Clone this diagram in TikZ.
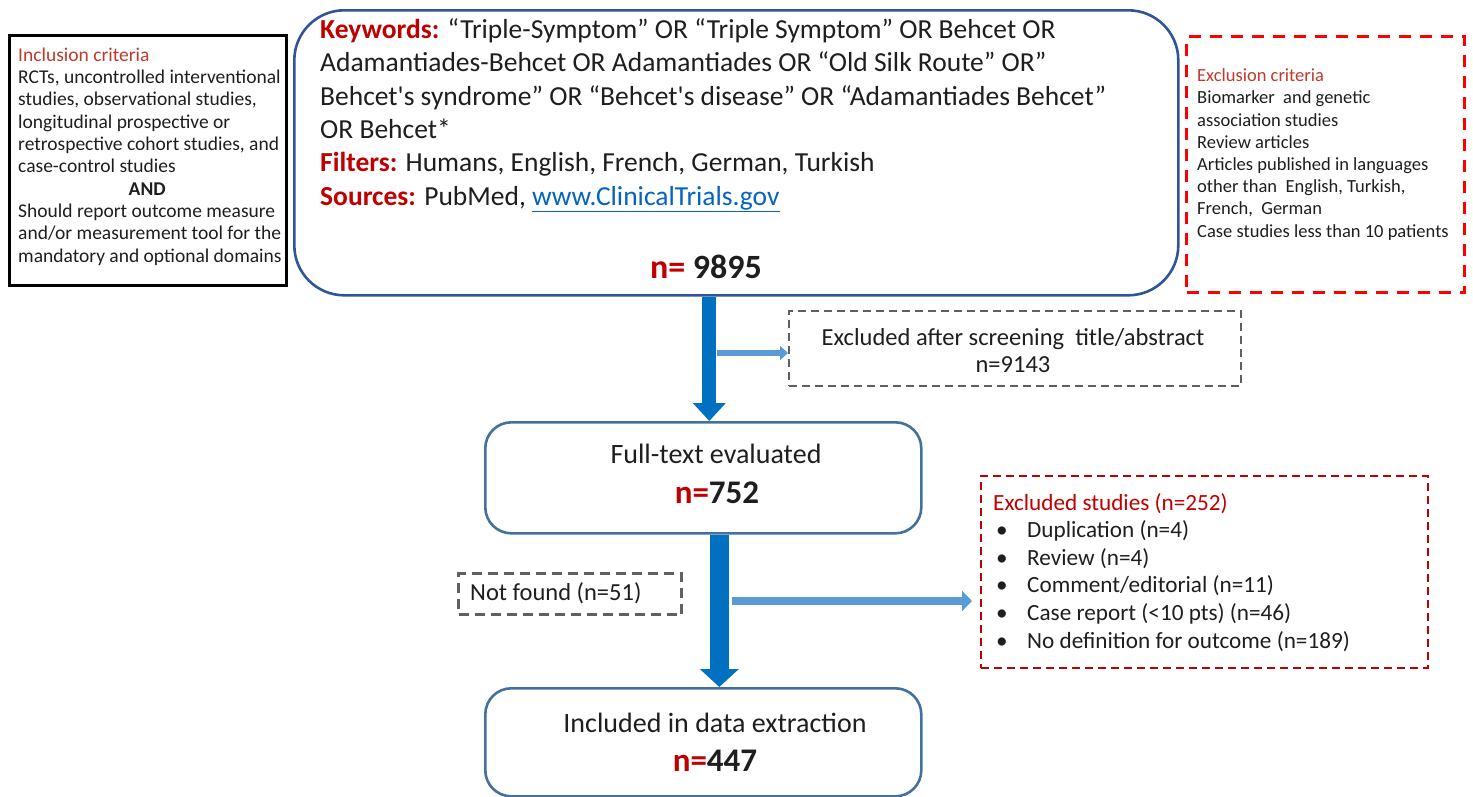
\documentclass[tikz,border=0pt]{standalone}
\usepackage{fontspec}
\setmainfont{Carlito}
\usetikzlibrary{positioning,arrows.meta}
\definecolor{SearchBlue}{HTML}{2F5597}
\definecolor{StepBlue}{HTML}{41719C}
\definecolor{FlowBlue}{HTML}{0070C0}
\definecolor{SideBlue}{HTML}{5B9BD5}
\definecolor{DeepRed}{HTML}{C00000}
\definecolor{SoftRed}{HTML}{C0392B}
\definecolor{LinkBlue}{HTML}{0563C1}
\definecolor{DashGrey}{HTML}{606060}
\definecolor{InkGrey}{HTML}{1E1E1E}

\begin{document}
\begin{tikzpicture}[x=1pt,y=-1pt,
  box/.style={draw,anchor=north west,inner sep=0pt},
  roundbox/.style={box,rounded corners=26pt,line width=2.6pt,draw=StepBlue},
  txt/.style={inner sep=0pt,text=InkGrey},
  bigarrow/.style={draw=FlowBlue,line width=14pt,-{Triangle[width=32pt,length=18pt]}},
  sidearrow/.style={draw=SideBlue,line width=6pt,-{Triangle[width=14pt,length=8pt]}}]
  \useasboundingbox (0,0) rectangle (1473,796);

  % boxes
  \node[box,line width=3pt,minimum width=277pt,minimum height=250pt] (incl) at (8,34) {};
  \node[roundbox,draw=SearchBlue,rounded corners=50pt,minimum width=884pt,minimum height=285pt] (search) at (293,9) {};
  \node[box,draw=red,line width=3pt,dash pattern=on 12pt off 9pt,minimum width=278pt,minimum height=256pt] (excl) at (1185,35) {};
  \node[box,draw=DashGrey,line width=2pt,dash pattern=on 8pt off 5pt,minimum width=452pt,minimum height=75pt] (screen) at (788,310) {};
  \node[roundbox,minimum width=436pt,minimum height=111pt] (fulltext) at (484,421) {};
  \node[box,draw=DashGrey,line width=3pt,dash pattern=on 10pt off 6pt,minimum width=223pt,minimum height=41pt] (notfound) at (457,572) {};
  \node[box,draw=DeepRed,line width=2pt,dash pattern=on 8pt off 5pt,minimum width=447pt,minimum height=192pt] (studies) at (980,475) {};
  \node[roundbox,minimum width=436pt,minimum height=108pt] (included) at (484,687) {};

  % texts (base anchor = last line)
  \node[txt,anchor=base west,align=left,font=\fontsize{19.5}{22.3}\selectfont] (incltext) at (18,262) {%
    \textcolor{SoftRed}{Inclusion criteria}\\
    RCTs, uncontrolled interventional\\
    studies, observational studies,\\
    longitudinal prospective or\\
    retrospective cohort studies, and\\
    case-control studies\\
    \makebox[258pt][c]{\textbf{AND}}\\
    Should report outcome measure\\
    and/or measurement tool for the\\
    mandatory and optional domains};
  \node[txt,anchor=base west,align=left,font=\fontsize{27.5}{33.3}\selectfont] (searchtext) at (320,205) {%
    \textcolor{DeepRed}{\bfseries Keywords:} “Triple-Symptom” OR “Triple Symptom” OR Behcet OR\\
    Adamantiades-Behcet OR Adamantiades OR “Old Silk Route” OR”\\
    Behcet\textquotesingle s syndrome” OR “Behcet\textquotesingle s disease” OR “Adamantiades Behcet”\\
    OR Behcet*\\
    \textcolor{DeepRed}{\bfseries Filters:} Humans, English, French, German, Turkish\\
    \textcolor{DeepRed}{\bfseries Sources:} PubMed, {\color{LinkBlue}\underline{www.ClinicalTrials.gov}}};
  \node[txt,anchor=base,font=\fontsize{34}{40}\selectfont\bfseries] (searchn) at (706,278) {\textcolor{DeepRed}{n=} 9895};
  \node[txt,anchor=base west,align=left,font=\fontsize{18.5}{22.2}\selectfont] (excltext) at (1197,237) {%
    \textcolor{SoftRed}{Exclusion criteria}\\
    Biomarker\ \ and genetic\\
    association studies\\
    Review articles\\
    Articles published in languages\\
    other than\ \ English, Turkish,\\
    French,\ \ German\\
    Case studies less than 10 patients};
  \node[txt,anchor=base,align=center,font=\fontsize{24.5}{27}\selectfont] (screentext) at (1013,372) {%
    Excluded after screening\ \ title/abstract\\ n=9143};
  \node[txt,anchor=base,font=\fontsize{28}{32}\selectfont] (fulltextlabel) at (716,463) {Full-text evaluated};
  \node[txt,anchor=base,font=\fontsize{33}{38}\selectfont\bfseries] (fulltextn) at (717,503) {\textcolor{DeepRed}{n=}752};
  \node[txt,anchor=base west,font=\fontsize{24.5}{28}\selectfont] (notfoundtext) at (470,600) {Not found (n=51)};
  \node[txt,anchor=base west,align=left,font=\fontsize{23.2}{27.6}\selectfont] (studiestext) at (993,648) {%
    \textcolor{DeepRed}{Excluded studies (n=252)}\\
    \hspace*{3pt}\makebox[31pt][l]{\textbullet}Duplication (n=4)\\
    \hspace*{3pt}\makebox[31pt][l]{\textbullet}Review (n=4)\\
    \hspace*{3pt}\makebox[31pt][l]{\textbullet}Comment/editorial (n=11)\\
    \hspace*{3pt}\makebox[31pt][l]{\textbullet}Case report (<10 pts) (n=46)\\
    \hspace*{3pt}\makebox[31pt][l]{\textbullet}No definition for outcome (n=189)};
  \node[txt,anchor=base,font=\fontsize{28}{32}\selectfont] (includedlabel) at (715,732) {Included in data extraction};
  \node[txt,anchor=base,font=\fontsize{33}{38}\selectfont\bfseries] (includedn) at (715,771) {\textcolor{DeepRed}{n=}447};

  % arrows
  \coordinate (tapscreen) at (717,353);
  \coordinate (tapstudies) at (732,601);
  \draw[bigarrow] ([xshift=6pt]fulltext.north |- search.south) -- ([xshift=6pt]fulltext.north);
  \draw[bigarrow,line width=19pt,-{Triangle[width=38pt,length=18pt]}] ([xshift=16pt]fulltext.south) -- ([xshift=16pt]included.north);
  \draw[sidearrow] (tapscreen) -- (tapscreen -| screen.west);
  \draw[sidearrow,line width=8pt,-{Triangle[width=20pt,length=10pt]},shorten >=8pt] (tapstudies) -- (tapstudies -| studies.west);
\end{tikzpicture}
\end{document}
